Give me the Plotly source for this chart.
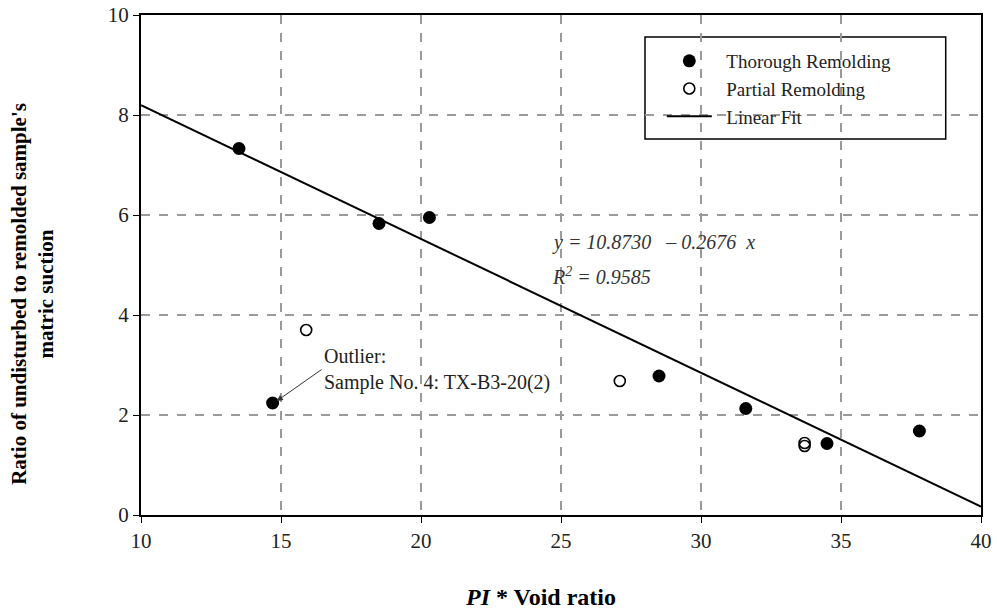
import numpy as np
import plotly.graph_objects as go

# Data
thorough_x = [13.5, 18.5, 20.3, 14.7, 28.5, 31.6, 34.5, 37.8]
thorough_y = [7.33, 5.83, 5.95, 2.24, 2.78, 2.13, 1.43, 1.68]
partial_x = [15.9, 27.1, 33.7, 33.7]
partial_y = [3.70, 2.68, 1.44, 1.38]
fit_intercept = 10.8730
fit_slope = -0.2676
fit_range = [10, 40]
x_ticks = [10, 15, 20, 25, 30, 35, 40]
y_ticks = [0, 2, 4, 6, 8, 10]

fit_x = np.array(fit_range, dtype=float)
fit_y = fit_intercept + fit_slope * fit_x

FONT = "Liberation Serif"
PAD = "\u00a0\u00a0"

fig = go.Figure()
fig.add_trace(go.Scatter(x=thorough_x, y=thorough_y, mode="markers", name=PAD + "Thorough Remolding",
                         marker=dict(symbol="circle", size=13, color="black")))
fig.add_trace(go.Scatter(x=partial_x, y=partial_y, mode="markers", name=PAD + "Partial Remolding",
                         marker=dict(symbol="circle-open", size=11, color="black", line=dict(width=1.6))))
fig.add_trace(go.Scatter(x=fit_x, y=fit_y, mode="lines", name=PAD + "Linear Fit",
                         line=dict(color="black", width=2)))

axis_common = dict(showline=True, linecolor="black", linewidth=2, mirror=True,
                   ticks="outside", ticklen=6, tickcolor="black", tickwidth=1,
                   showgrid=True, gridcolor="#9a9a9a", griddash="dash", gridwidth=1.5,
                   zeroline=False, automargin=False,
                   tickfont=dict(family=FONT, size=21, color="#222"))

fig.update_xaxes(range=[10, 40], tickvals=x_ticks, **axis_common)
fig.update_yaxes(range=[0, 10], tickvals=y_ticks, **axis_common)

fig.update_layout(
    width=997, height=611,
    margin=dict(l=141, r=16, t=15, b=96),
    plot_bgcolor="white", paper_bgcolor="white",
    font=dict(family=FONT, size=17, color="#222"),
    legend=dict(x=0.62, y=0.946, xanchor="left", yanchor="top",
                borderwidth=0, bgcolor="rgba(0,0,0,0)",
                font=dict(family=FONT, size=19, color="#222"),
                tracegroupgap=0, itemwidth=45),
    showlegend=True,
    shapes=[dict(type="rect", xref="paper", yref="paper", x0=0.6, x1=0.958, y0=0.752, y1=0.956,
                 line=dict(color="black", width=1.5), fillcolor="white", layer="below")],
)

annotations = [
    dict(text="<i>y = 10.8730   – 0.2676  x</i>", x=24.6, y=5.45, xref="x", yref="y",
         xanchor="left", yanchor="middle", showarrow=False,
         font=dict(family=FONT, size=20, color="#333")),
    dict(text="<i>R<sup>2</sup> = 0.9585</i>", x=24.6, y=4.79, xref="x", yref="y",
         xanchor="left", yanchor="middle", showarrow=False,
         font=dict(family=FONT, size=20, color="#333")),
    dict(text="Outlier:<br>Sample No. 4: TX-B3-20(2)", x=14.85, y=2.28, ax=16.45, ay=2.91,
         xref="x", yref="y", axref="x", ayref="y",
         xanchor="left", yanchor="middle", align="left",
         showarrow=True, arrowhead=2, arrowsize=1.2, arrowwidth=1, arrowcolor="#333",
         font=dict(family=FONT, size=20, color="#222")),
    dict(text="<b>Ratio of undisturbed to remolded sample's<br>matric suction</b>",
         x=-0.13, y=0.442, xref="paper", yref="paper", textangle=-90, showarrow=False,
         xanchor="center", yanchor="middle", font=dict(family=FONT, size=21, color="black")),
    dict(text="<b><i>PI</i> * Void ratio</b>", x=0.475, y=-0.164, xref="paper", yref="paper",
         showarrow=False, xanchor="center", yanchor="middle",
         font=dict(family=FONT, size=24, color="black")),
]
fig.update_layout(annotations=annotations)

fig.write_html("out.html")
